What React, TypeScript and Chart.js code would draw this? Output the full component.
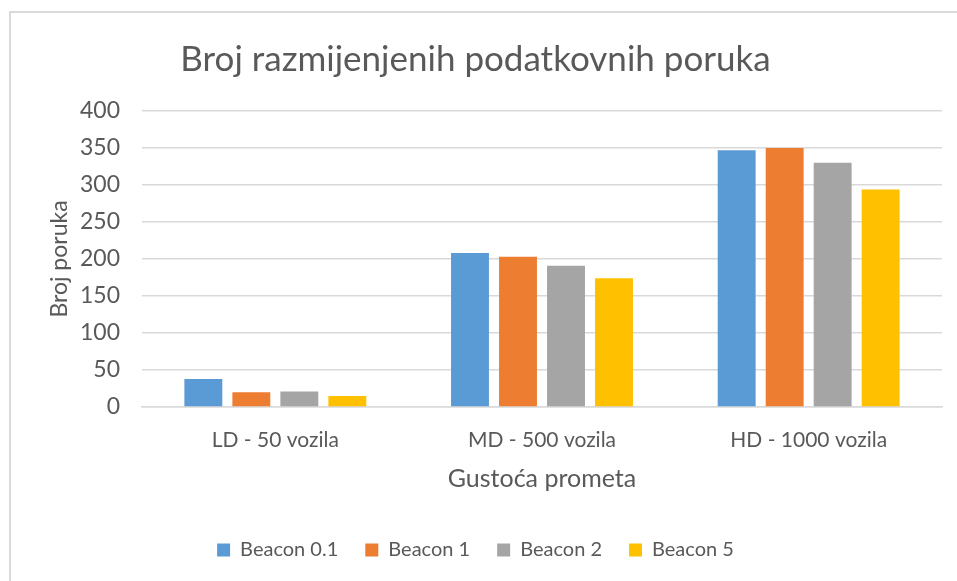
import React, { useEffect, useRef } from "react";
import { Chart, registerables } from "chart.js";

Chart.register(...registerables);

const categories = ["LD - 50 vozila", "MD - 500 vozila", "HD - 1000 vozila"];
const seriesNames = ["Beacon 0.1", "Beacon 1", "Beacon 2", "Beacon 5"];
const beacon01 = [38, 208, 347];
const beacon1 = [20, 203, 350];
const beacon2 = [21, 191, 330];
const beacon5 = [15, 174, 294];
const colors = ["#5B9BD5", "#ED7D31", "#A5A5A5", "#FFC000"];
const yTicks = [0, 50, 100, 150, 200, 250, 300, 350, 400];

const FONT = "Lato";
const TEXT = "#595959";

const frame = {
  id: "frame",
  beforeDraw(chart: any) {
    const ctx = chart.ctx;
    ctx.save();
    ctx.strokeStyle = "#d9d9d9";
    ctx.lineWidth = 2;
    ctx.beginPath();
    ctx.moveTo(10, 581);
    ctx.lineTo(10, 12);
    ctx.lineTo(957, 12);
    ctx.stroke();
    ctx.restore();
  },
};

export default function App() {
  const ref = useRef<HTMLCanvasElement | null>(null);
  useEffect(() => {
    const values = [beacon01, beacon1, beacon2, beacon5];
    const chart = new Chart(ref.current as HTMLCanvasElement, {
      type: "bar",
      data: {
        labels: categories,
        datasets: seriesNames.map((n, i) => ({
          label: n,
          data: values[i],
          backgroundColor: colors[i],
          borderWidth: 0,
          categoryPercentage: 0.72,
          barPercentage: 0.79,
        })),
      },
      options: {
        animation: false,
        responsive: false,
        maintainAspectRatio: false,
        layout: { padding: { left: 9, right: 15, top: 12, bottom: 11 } },
        plugins: {
          title: {
            display: true,
            text: "Broj razmijenjenih podatkovnih poruka",
            color: TEXT,
            font: { family: FONT, size: 35, weight: "normal" },
            padding: { top: 27, bottom: 30 },
          },
          legend: {
            position: "bottom",
            labels: {
              color: TEXT,
              font: { family: FONT, size: 20 },
              boxWidth: 13,
              boxHeight: 13,
              padding: 27,
            },
          },
          tooltip: { enabled: false },
        },
        scales: {
          x: {
            grid: { display: false },
            border: { color: "#d9d9d9", width: 1.5 },
            ticks: { color: TEXT, font: { family: FONT, size: 21 }, padding: 13 },
            title: {
              display: true,
              text: "Gustoća prometa",
              color: TEXT,
              font: { family: FONT, size: 25 },
              padding: { top: 10, bottom: 19 },
            },
            afterFit: (s: any) => {
              s.height = 106;
            },
          },
          y: {
            min: 0,
            max: 400,
            afterBuildTicks: (s: any) => {
              s.ticks = yTicks.map((v) => ({ value: v }));
            },
            grid: { color: "#d9d9d9", lineWidth: 1.5, drawTicks: false },
            border: { display: false },
            ticks: { color: TEXT, font: { family: FONT, size: 23 }, padding: 22 },
            title: {
              display: true,
              text: "Broj poruka",
              color: TEXT,
              font: { family: FONT, size: 23 },
              padding: { top: 37, bottom: 0 },
            },
            afterFit: (s: any) => {
              s.width = 133;
            },
          },
        },
      },
      plugins: [frame],
    });
    return () => chart.destroy();
  }, []);
  return (
    <div style={{ position: "fixed", left: 0, top: 0, width: 957, height: 581, background: "#fff" }}>
      <canvas ref={ref} width={957} height={581} style={{ display: "block" }} />
    </div>
  );
}
